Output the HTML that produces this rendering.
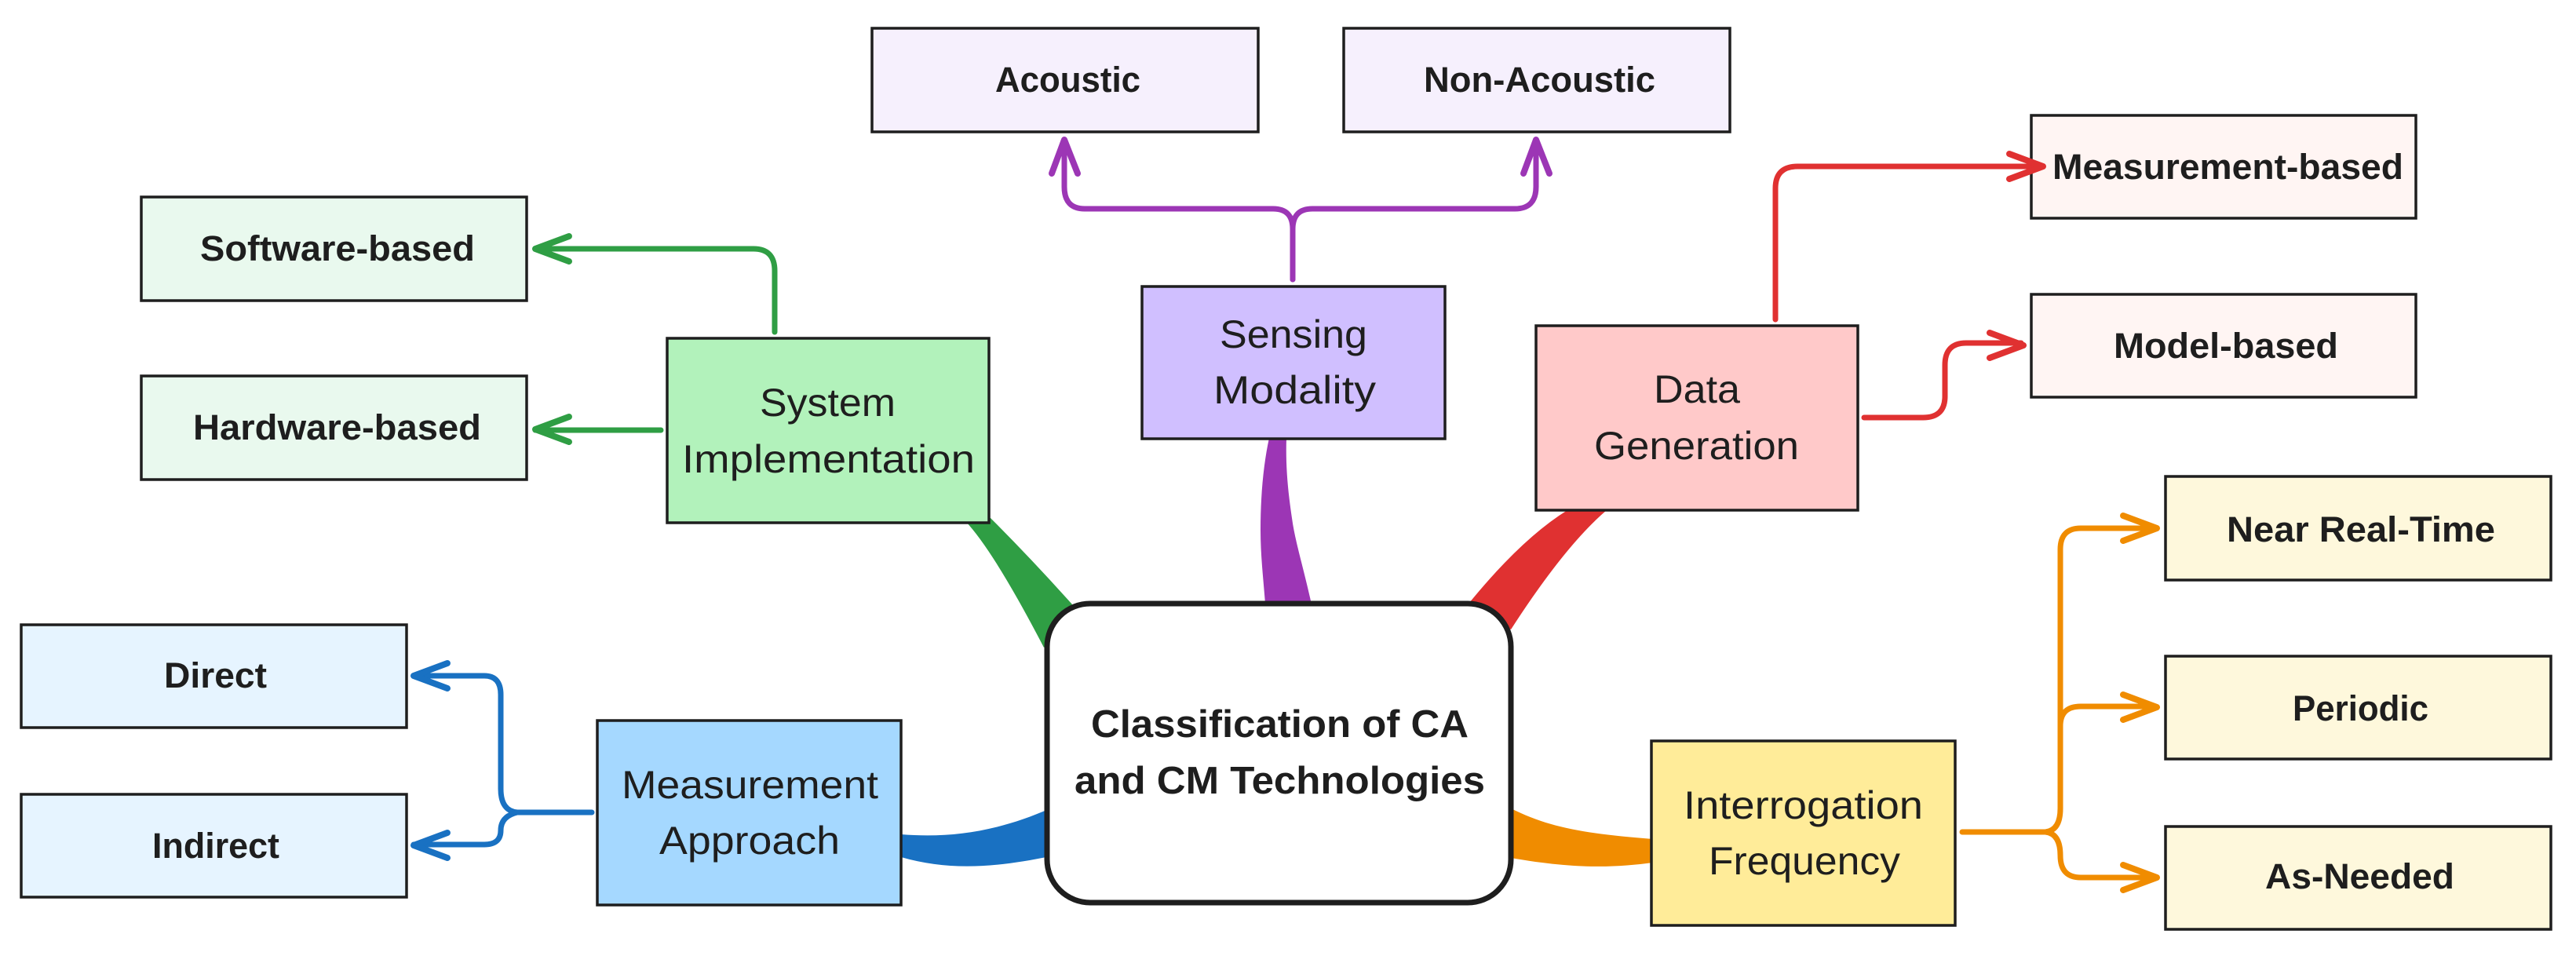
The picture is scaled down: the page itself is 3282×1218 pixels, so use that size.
<!DOCTYPE html>
<html><head><meta charset="utf-8"><style>
html,body{margin:0;padding:0;background:#fff}
svg{display:block}
text{font-family:"Liberation Sans",sans-serif;fill:#1e1e1e;text-anchor:start}
.l{font-weight:bold;font-size:45px}
.n{font-size:50px}
.c{font-weight:bold;font-size:49px}
rect{stroke:#1e1e1e;stroke-width:3.5}
.e{fill:none;stroke-width:7;stroke-linecap:round;stroke-linejoin:round}
.a{fill:none;stroke-width:8;stroke-linecap:round;stroke-linejoin:round}
</style></head><body>
<svg xmlns="http://www.w3.org/2000/svg" width="3282" height="1218" viewBox="0 0 3282 1218">
<rect x="0" y="0" width="3282" height="1218" style="fill:#fff;stroke:none"/>

<!-- thick branches -->
<path d="M1230 664 Q1266 702 1330 825 L1366 770 Q1313 711 1262 660 Z" fill="#2f9e44"/>
<path d="M1617 558 C1610 590 1606 630 1606 675 C1606 710 1610 740 1612 770 L1671 770 C1660 720 1650 690 1646 660 C1640 620 1638 590 1639 558 Z" fill="#9c36b5"/>
<path d="M1997 650 Q1939 686 1872 768 L1925 802 Q1994 695 2047 650 Z" fill="#e03131"/>
<path d="M1925 1030 C1975 1055 2020 1062 2106 1069 L2106 1099 C2060 1105 2010 1108 1925 1093 Z" fill="#f08c00"/>
<path d="M1148 1063 C1210 1068 1270 1060 1338 1030 L1338 1091 C1270 1105 1210 1110 1148 1092 Z" fill="#1971c2"/>

<!-- boxes -->
<rect x="1111" y="36" width="492" height="132" fill="#f6f0fd"/>
<rect x="1712" y="36" width="492" height="132" fill="#f6f0fd"/>
<rect x="180" y="251" width="491" height="132" fill="#e9f9ee"/>
<rect x="180" y="479" width="491" height="132" fill="#e9f9ee"/>
<rect x="850" y="431" width="410" height="235" fill="#b2f2bb"/>
<rect x="1455" y="365" width="386" height="194" fill="#d0bfff"/>
<rect x="1957" y="415" width="410" height="235" fill="#ffc9c9"/>
<rect x="2588" y="147" width="490" height="131" fill="#fff5f3"/>
<rect x="2588" y="375" width="490" height="131" fill="#fff5f3"/>
<rect x="2759" y="607" width="491" height="132" fill="#fef8dc"/>
<rect x="2759" y="836" width="491" height="131" fill="#fef8dc"/>
<rect x="2759" y="1053" width="491" height="131" fill="#fef8dc"/>
<rect x="2104" y="944" width="387" height="235" fill="#ffec99"/>
<rect x="27" y="796" width="491" height="131" fill="#e6f4ff"/>
<rect x="27" y="1012" width="491" height="131" fill="#e6f4ff"/>
<rect x="761" y="918" width="387" height="235" fill="#a5d8ff"/>
<rect x="1334" y="769" width="591" height="381" rx="55" ry="55" fill="#fff" style="stroke-width:7"/>

<!-- purple edges -->
<path class="e" stroke="#9c36b5" d="M1647 356 V292 Q1647 266 1622 266 H1382 Q1356 266 1356 238 V178"/>
<path class="e" stroke="#9c36b5" d="M1647 356 V292 Q1647 266 1672 266 H1930 Q1957 266 1957 238 V178"/>
<path class="a" stroke="#9c36b5" d="M1340 221 L1356 178 L1373 221"/>
<path class="a" stroke="#9c36b5" d="M1941 221 L1957 178 L1974 221"/>
<!-- green edges -->
<path class="e" stroke="#2f9e44" d="M987 423 V345 Q987 317 960 317 H682"/>
<path class="a" stroke="#2f9e44" d="M725 301 L682 317 L725 333"/>
<path class="e" stroke="#2f9e44" d="M842 548 H682"/>
<path class="a" stroke="#2f9e44" d="M725 531 L682 547 L725 563"/>
<!-- red edges -->
<path class="e" stroke="#e03131" d="M2262 407 V240 Q2262 212 2290 212 H2600"/>
<path class="a" stroke="#e03131" d="M2560 196 L2603 212 L2560 228"/>
<path class="e" stroke="#e03131" d="M2375 532 H2450 Q2478 532 2478 505 V465 Q2478 437 2505 437 H2575"/>
<path class="a" stroke="#e03131" d="M2535 424 L2578 440 L2535 456"/>
<!-- orange edges -->
<path class="e" stroke="#f08c00" d="M2500 1060 H2606 Q2625 1058 2625 1030 V700 Q2625 673 2651 673 H2745"/>
<path class="a" stroke="#f08c00" d="M2705 657 L2748 673 L2705 689"/>
<path class="e" stroke="#f08c00" d="M2625 925 Q2625 900 2651 900 H2745"/>
<path class="a" stroke="#f08c00" d="M2705 885 L2748 901 L2705 917"/>
<path class="e" stroke="#f08c00" d="M2606 1060 Q2625 1062 2625 1090 Q2625 1118 2651 1118 H2745"/>
<path class="a" stroke="#f08c00" d="M2705 1102 L2748 1118 L2705 1134"/>
<!-- blue edges -->
<path class="e" stroke="#1971c2" d="M754 1035 H659 Q638 1033 638 1005 V885 Q638 861 617 861 H527"/>
<path class="a" stroke="#1971c2" d="M570 845 L527 861 L570 877"/>
<path class="e" stroke="#1971c2" d="M659 1035 Q638 1040 638 1058 Q638 1076 617 1076 H527"/>
<path class="a" stroke="#1971c2" d="M570 1061 L527 1077 L570 1093"/>

<!-- labels -->
<text class="l" x="1268" y="117" textLength="185" lengthAdjust="spacingAndGlyphs">Acoustic</text>
<text class="l" x="1814" y="117" textLength="295" lengthAdjust="spacingAndGlyphs">Non-Acoustic</text>
<text class="l" x="255" y="332" textLength="350" lengthAdjust="spacingAndGlyphs">Software-based</text>
<text class="l" x="246" y="560" textLength="367" lengthAdjust="spacingAndGlyphs">Hardware-based</text>
<text class="n" x="968" y="530" textLength="173" lengthAdjust="spacingAndGlyphs">System</text>
<text class="n" x="869" y="602" textLength="373" lengthAdjust="spacingAndGlyphs">Implementation</text>
<text class="n" x="1554" y="443" textLength="188" lengthAdjust="spacingAndGlyphs">Sensing</text>
<text class="n" x="1546" y="514" textLength="207" lengthAdjust="spacingAndGlyphs">Modality</text>
<text class="n" x="2107" y="513" textLength="110" lengthAdjust="spacingAndGlyphs">Data</text>
<text class="n" x="2031" y="585" textLength="261" lengthAdjust="spacingAndGlyphs">Generation</text>
<text class="l" x="2615" y="228" textLength="447" lengthAdjust="spacingAndGlyphs">Measurement-based</text>
<text class="l" x="2693" y="456" textLength="286" lengthAdjust="spacingAndGlyphs">Model-based</text>
<text class="l" x="2837" y="690" textLength="342" lengthAdjust="spacingAndGlyphs">Near Real-Time</text>
<text class="l" x="2921" y="918" textLength="173" lengthAdjust="spacingAndGlyphs">Periodic</text>
<text class="l" x="2886" y="1132" textLength="241" lengthAdjust="spacingAndGlyphs">As-Needed</text>
<text class="n" x="2145" y="1043" textLength="305" lengthAdjust="spacingAndGlyphs">Interrogation</text>
<text class="n" x="2177" y="1114" textLength="244" lengthAdjust="spacingAndGlyphs">Frequency</text>
<text class="l" x="209" y="876" textLength="131" lengthAdjust="spacingAndGlyphs">Direct</text>
<text class="l" x="194" y="1093" textLength="162" lengthAdjust="spacingAndGlyphs">Indirect</text>
<text class="n" x="792" y="1017" textLength="327" lengthAdjust="spacingAndGlyphs">Measurement</text>
<text class="n" x="840" y="1088" textLength="230" lengthAdjust="spacingAndGlyphs">Approach</text>
<text class="c" x="1390" y="939" textLength="481" lengthAdjust="spacingAndGlyphs">Classification of CA</text>
<text class="c" x="1369" y="1011" textLength="523" lengthAdjust="spacingAndGlyphs">and CM Technologies</text>
</svg>
</body></html>
